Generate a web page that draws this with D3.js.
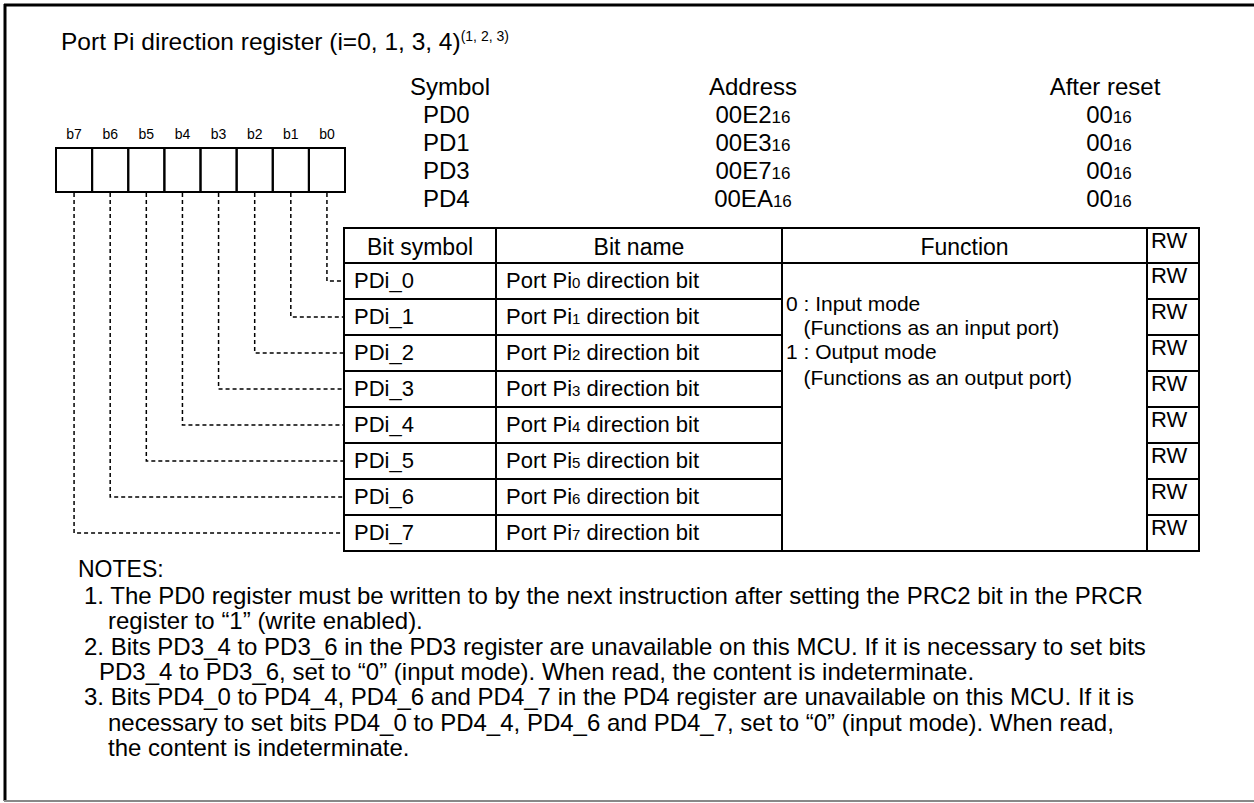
<!DOCTYPE html>
<html>
<head>
<meta charset="utf-8">
<script src="https://cdn.jsdelivr.net/npm/d3@7"></script>
<style>
  html, body { margin: 0; padding: 0; background: #fff; }
  svg { display: block; font-family: "Liberation Sans", Arial, Helvetica, sans-serif; }
</style>
</head>
<body>
<svg id="chart" width="1254" height="803"></svg>
<script>
// ---------------- data ----------------
const titleText = "Port Pi direction register (i=0, 1, 3, 4)";
const titleNote = "(1, 2, 3)";
const bitLabels = ["b7", "b6", "b5", "b4", "b3", "b2", "b1", "b0"];
const regHeaders = ["Symbol", "Address", "After reset"];
const regSymbols = ["PD0", "PD1", "PD3", "PD4"];
const regAddresses = ["00E2", "00E3", "00E7", "00EA"];
const regResets = ["00", "00", "00", "00"];
const radixSuffix = "16";
const tableHeaders = ["Bit symbol", "Bit name", "Function", "RW"];
const bitSymbols = ["PDi_0", "PDi_1", "PDi_2", "PDi_3", "PDi_4", "PDi_5", "PDi_6", "PDi_7"];
const bitNamePre = "Port Pi";
const bitNameIdx = ["0", "1", "2", "3", "4", "5", "6", "7"];
const bitNamePost = " direction bit";
const bitRW = ["RW", "RW", "RW", "RW", "RW", "RW", "RW", "RW"];
const functionLines = [
  "0 : Input mode",
  "   (Functions as an input port)",
  "1 : Output mode",
  "   (Functions as an output port)"
];
const notesHeader = "NOTES:";
const noteLines = [
  {t: "1. The PD0 register must be written to by the next instruction after setting the PRC2 bit in the PRCR", indent: 0},
  {t: "register to \u201C1\u201D (write enabled).", indent: 1},
  {t: "2. Bits PD3_4 to PD3_6 in the PD3 register are unavailable on this MCU. If it is necessary to set bits", indent: 0},
  {t: "PD3_4 to PD3_6, set to \u201C0\u201D (input mode). When read, the content is indeterminate.", indent: 2},
  {t: "3. Bits PD4_0 to PD4_4, PD4_6 and PD4_7 in the PD4 register are unavailable on this MCU. If it is", indent: 0},
  {t: "necessary to set bits PD4_0 to PD4_4, PD4_6 and PD4_7, set to \u201C0\u201D (input mode). When read,", indent: 1},
  {t: "the content is indeterminate.", indent: 1}
];

// ---------------- drawing ----------------
const svg = d3.select("#chart");
const FONT = 22;

// outer frame
svg.append("line").attr("x1", 4).attr("x2", 1254).attr("y1", 5).attr("y2", 5)
  .attr("stroke", "#000").attr("stroke-width", 3);
svg.append("line").attr("x1", 5).attr("x2", 5).attr("y1", 4).attr("y2", 801)
  .attr("stroke", "#000").attr("stroke-width", 3);
svg.append("line").attr("x1", 4).attr("x2", 1254).attr("y1", 801).attr("y2", 801)
  .attr("stroke", "#888").attr("stroke-width", 2);

// title
const title = svg.append("text").attr("x", 61).attr("y", 50).attr("font-size", 24.5).attr("fill", "#000");
title.append("tspan").text(titleText);
title.append("tspan").attr("font-size", 14).attr("dy", -9).text(titleNote);

// register info block
const regRows = d3.scaleBand().domain(["hdr"].concat(regSymbols)).range([74, 214]);
const regCols = { sym: 410, symVal: 423, addr: 753, reset: 1105 };
const base = d => regRows(d) + regRows.bandwidth() - 7;
svg.append("text").attr("x", regCols.sym).attr("y", base("hdr")).attr("font-size", 24).text(regHeaders[0]);
svg.append("text").attr("x", regCols.addr).attr("y", base("hdr")).attr("font-size", 24).attr("text-anchor", "middle").text(regHeaders[1]);
svg.append("text").attr("x", regCols.reset).attr("y", base("hdr")).attr("font-size", 24).attr("text-anchor", "middle").text(regHeaders[2]);
regSymbols.forEach((s, i) => {
  svg.append("text").attr("x", regCols.symVal).attr("y", base(s)).attr("font-size", 24).text(s);
  const a = svg.append("text").attr("x", regCols.addr).attr("y", base(s)).attr("font-size", 24).attr("text-anchor", "middle");
  a.append("tspan").text(regAddresses[i]);
  a.append("tspan").attr("font-size", 17).text(radixSuffix);
  const r = svg.append("text").attr("x", regCols.reset + 4).attr("y", base(s)).attr("font-size", 24).attr("text-anchor", "middle");
  r.append("tspan").text(regResets[i]);
  r.append("tspan").attr("font-size", 17).text(radixSuffix);
});

// bit boxes
const bx = d3.scaleBand().domain(bitLabels).range([56, 345]);
const boxTop = 148, boxBot = 192;
svg.selectAll("rect.bit").data(bitLabels).join("rect").attr("class", "bit")
  .attr("x", d => bx(d)).attr("y", boxTop).attr("width", bx.bandwidth()).attr("height", boxBot - boxTop)
  .attr("fill", "none").attr("stroke", "#000").attr("stroke-width", 2);
svg.selectAll("text.bitlbl").data(bitLabels).join("text").attr("class", "bitlbl")
  .attr("x", d => bx(d) + bx.bandwidth() / 2).attr("y", 139).attr("font-size", 14)
  .attr("text-anchor", "middle").text(d => d);

// table geometry
const tLeft = 344, tRight = 1199;
const colX = [344, 496, 782, 1147, 1199];
const headTop = 228, headBot = 263;
const ry = d3.scaleBand().domain(bitSymbols).range([headBot, headBot + 36 * bitSymbols.length]);
const tBot = headBot + 36 * bitSymbols.length;

// dotted connectors (bit n -> row PDi_n)
bitSymbols.forEach((s, i) => {
  const lbl = "b" + i;
  const x = bx(lbl) + bx.bandwidth() / 2;
  const y = ry(s) + ry.bandwidth() / 2;
  svg.append("path").attr("d", `M${x},${boxBot + 1}V${y}H${tLeft}`)
    .attr("fill", "none").attr("stroke", "#000").attr("stroke-width", 1.5).attr("stroke-dasharray", "4,3");
});

const g = svg.append("g").attr("stroke", "#000").attr("stroke-width", 2);
g.append("rect").attr("x", tLeft).attr("y", headTop).attr("width", tRight - tLeft).attr("height", tBot - headTop).attr("fill", "none");
colX.slice(1, 4).forEach(x => g.append("line").attr("x1", x).attr("x2", x).attr("y1", headTop).attr("y2", tBot));
g.append("line").attr("x1", tLeft).attr("x2", tRight).attr("y1", headBot).attr("y2", headBot);
bitSymbols.slice(1).forEach(s => {
  const y = ry(s);
  g.append("line").attr("x1", colX[0]).attr("x2", colX[2]).attr("y1", y).attr("y2", y);
  g.append("line").attr("x1", colX[3]).attr("x2", colX[4]).attr("y1", y).attr("y2", y);
});

// header texts
const hb = headBot - 8;
[0, 1, 2].forEach(i => {
  svg.append("text").attr("x", (colX[i] + colX[i + 1]) / 2).attr("y", hb).attr("font-size", FONT + 1)
    .attr("text-anchor", "middle").text(tableHeaders[i]);
});
svg.append("text").attr("x", colX[3] + 4).attr("y", headTop + 20).attr("font-size", FONT).text(tableHeaders[3]);

// rows
bitSymbols.forEach((s, i) => {
  const y0 = ry(s);
  svg.append("text").attr("x", colX[0] + 10).attr("y", y0 + 25).attr("font-size", FONT).text(s);
  const t = svg.append("text").attr("x", colX[1] + 10).attr("y", y0 + 25).attr("font-size", FONT);
  t.append("tspan").text(bitNamePre);
  t.append("tspan").attr("font-size", 15).text(bitNameIdx[i]);
  t.append("tspan").text(bitNamePost);
  svg.append("text").attr("x", colX[3] + 4).attr("y", y0 + 20).attr("font-size", FONT).text(bitRW[i]);
});

// function text
const fBase = [311, 335, 359, 385];
functionLines.forEach((l, i) => {
  svg.append("text").attr("x", colX[2] + 4).attr("y", fBase[i]).attr("font-size", FONT - 1)
    .attr("xml:space", "preserve").style("white-space", "pre").text(l);
});

// notes
svg.append("text").attr("x", 78).attr("y", 577).attr("font-size", FONT + 1).text(notesHeader);
const indentX = [84, 108, 99];
const ny = d3.scaleLinear().domain([0, noteLines.length - 1]).range([604, 756]);
noteLines.forEach((n, i) => {
  svg.append("text").attr("x", indentX[n.indent]).attr("y", ny(i)).attr("font-size", FONT + 2).text(n.t);
});
</script>
</body>
</html>
